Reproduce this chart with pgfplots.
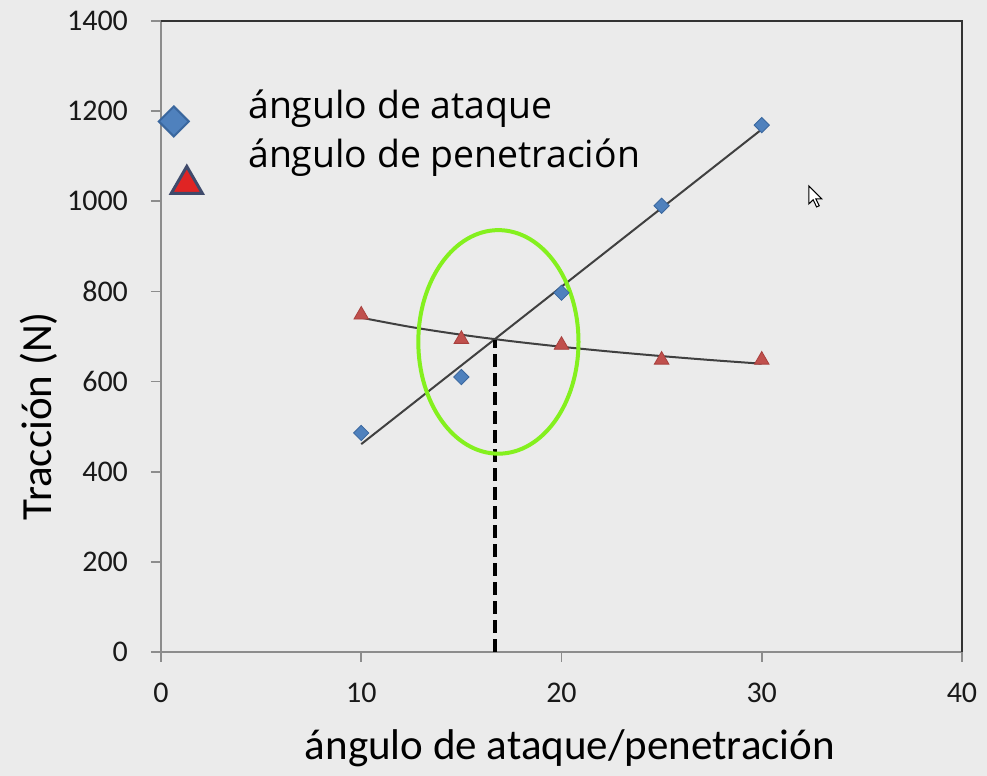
\documentclass[border=0pt]{standalone}
\usepackage{fontspec}
\setmainfont{Carlito}
\newfontfamily\legendfont{Open Sans}
\usepackage{pgfplots}
\usepackage{pgfplotstable}
\pgfplotsset{compat=1.18}
\definecolor{bgGray}{HTML}{EBEBEB}
\definecolor{dFill}{HTML}{4F81BD}
\definecolor{dEdge}{HTML}{3A679E}
\definecolor{tFill}{HTML}{C0504D}
\definecolor{tEdge}{HTML}{A8403D}
\definecolor{legTri}{HTML}{E02424}
\definecolor{legTriEdge}{HTML}{3F4A6B}
\definecolor{trendGray}{HTML}{404040}
\definecolor{ringGreen}{HTML}{84F01E}

% measured points
\pgfplotstableread{
x y
10 486
15 610
20 797
25 990
30 1169
}\ataque
\pgfplotstableread{
x y
10 748
15 694
20 681
25 648
30 648
}\penetracion
% logarithmic trend curve of the triangles
\pgfplotstableread{
x y
10 741.7
12.5 720.9
15 703.9
17.5 689.6
20 677.2
22.5 666.3
25 656.5
27.5 647.6
30 639.6
}\penetraciontrend

\begin{document}
\begin{tikzpicture}
\fill[bgGray] (-80.5pt,-62pt) rectangle (413pt,326pt);
\begin{axis}[
    at={(0,0)}, anchor=south west,
    scale only axis,
    width=400.5pt, height=315.5pt,
    xmin=0, xmax=40, ymin=0, ymax=1400,
    xtick={0,10,20,30,40},
    ytick={0,200,...,1400},
    xtick pos=bottom, ytick pos=left,
    tick align=outside,
    major tick length=5pt,
    tick style={color=black!45, line width=0.8pt},
    axis line style={draw=none},
    clip=false,
    /pgf/number format/assume math mode=true,
    /pgf/number format/1000 sep={},
    ticklabel style={font=\fontsize{15}{18}\selectfont, color=black!90},
    yticklabel style={xshift=-8pt},
    xticklabel style={yshift=-7pt},
    label style={font=\fontsize{21.5}{25}\selectfont},
    xlabel={ángulo de ataque/penetración},
    ylabel={Tracción (N)},
    xlabel style={at={(axis description cs:0.5106,-0.152)}, anchor=center},
    ylabel style={at={(axis description cs:-0.153,0.374)}, anchor=center},
    legend cell align=left,
    legend style={draw=none, fill=none, inner sep=0pt,
        at={(rel axis cs:0.015,0.8906)}, anchor=north west,
        font=\legendfont\fontsize{18.7}{22}\selectfont,
        row sep=5.5pt,
        nodes={inner sep=0pt, text height=14pt, text depth=5pt}},
]
% frame
\draw[black!45, line width=0.9pt] (rel axis cs:0,1) -- (rel axis cs:0,0) -- (rel axis cs:1,0);
\draw[black!80, line width=0.9pt] (rel axis cs:0,1) -- (rel axis cs:1,1) -- (rel axis cs:1,0);

\addlegendimage{legend image code/.code={
    \draw[overlay] plot[mark=square*, mark size=5.3pt,
        mark options={rotate=45, fill=dFill, draw=dEdge, line width=1pt}]
        coordinates {(0pt,-6pt)};
    \path (0pt,0pt) (37pt,0pt);
}}
\addlegendentry{ángulo de ataque}
\addlegendimage{legend image code/.code={
    \draw[overlay] plot[mark=triangle*, mark size=9pt,
        mark options={fill=legTri, draw=legTriEdge, line width=1.5pt}]
        coordinates {(6.5pt,-13pt)};
    \path (0pt,0pt) (37pt,0pt);
}}
\addlegendentry{ángulo de penetración}

% trend lines
\addplot[forget plot, no marks, trendGray, line width=1pt]
    table[x=x, y={create col/linear regression={y=y}}] {\ataque};
\addplot[forget plot, no marks, trendGray, line width=1pt, smooth]
    table[x=x, y=y] {\penetraciontrend};

% data points
\addplot[forget plot, only marks, mark=square*, mark size=2.7pt,
    mark options={rotate=45, fill=dFill, draw=dEdge, line width=0.4pt}]
    table[x=x, y=y] {\ataque};
\addplot[forget plot, only marks, mark=triangle*, mark size=4.2pt,
    mark options={fill=tFill, draw=tEdge, line width=0.4pt}]
    table[x=x, y=y] {\penetracion};

% intersection marker line
\addplot[forget plot, black, line width=2pt, dash pattern=on 6.5pt off 3pt]
    coordinates {(16.7,0) (16.7,692)};

\draw[ringGreen, line width=2pt] (axis cs:16.85,688) ellipse [x radius=4, y radius=248];

% mouse pointer from the screenshot
\draw[black, fill=white, line width=0.5pt, shift={(axis cs:32.35,1034)}]
    (0,0) -- (0,-9pt) -- (2.2pt,-6.9pt) -- (3.9pt,-10.5pt) -- (5.2pt,-9.9pt)
    -- (3.5pt,-6.4pt) -- (6.4pt,-6.4pt) -- cycle;
\end{axis}
\pgfresetboundingbox
\path (-80.5pt,-62pt) rectangle (413pt,326pt);
\end{tikzpicture}
\end{document}
